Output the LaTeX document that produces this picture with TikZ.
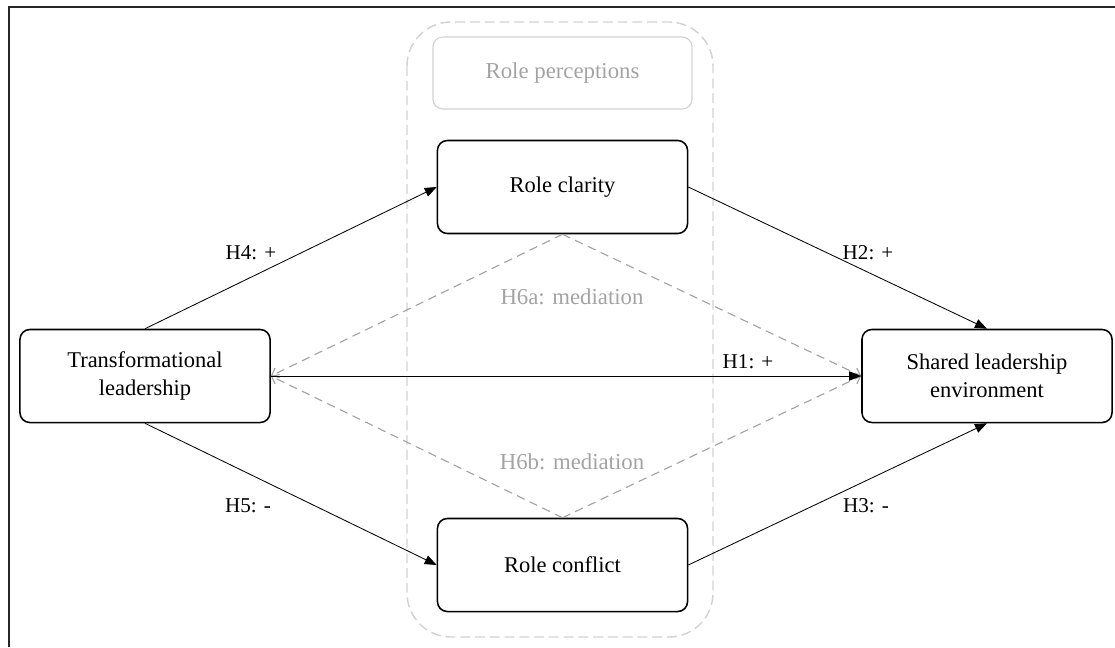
\documentclass[tikz,border=0pt]{standalone}
\usepackage{fontspec}
\setmainfont{Liberation Serif}
\usepackage{tikz}
\usetikzlibrary{positioning,arrows.meta,calc}
\definecolor{frame}{HTML}{262626}
\definecolor{percep}{HTML}{D2D2D2}
\definecolor{medi}{HTML}{A3A3A3}

\begin{document}
\begin{tikzpicture}[x=0.025cm, y=-0.025cm,
  var/.style={draw, line width=1.1pt, rounded corners=7pt, align=center,
    minimum width=6.25cm, minimum height=2.325cm, inner sep=2pt,
    font=\fontsize{16}{19.5}\selectfont},
  hyp/.style={-{Triangle[length=3mm, width=2.3mm]}, line width=0.6pt},
  med/.style={-{Straight Barb[length=1.6mm, width=2.6mm]}, medi, dashed,
    dash pattern=on 6pt off 4pt, line width=0.8pt},
  lab/.style={font=\fontsize{15}{18}\selectfont}]
\useasboundingbox (0,0) rectangle (1115,647);
% outer frame
\draw[frame, line width=1.5pt] (9,647) -- (9,7) -- (1115,7);
% role perceptions group
\draw[percep, dashed, dash pattern=on 7pt off 3.5pt, line width=1pt, rounded corners=1.1cm]
  (407,22) rectangle (713,637);
\node[draw=percep, line width=0.8pt, rounded corners=7pt, minimum width=6.475cm,
  minimum height=1.8cm, text=medi, font=\fontsize{16.2}{19.5}\selectfont]
  (per) at (562.5,73) {Role perceptions};
% variables
\node[var] (tl) at (145,376) {Transformational\\leadership};
\node[var] (cla) at (562.5,187) {Role clarity};
\node[var] (con) at (562.5,565) {Role conflict};
\node[var] (sh) at (987,376) {Shared leadership\\environment};
% mediation paths
\draw[med] (cla.south) -- (tl.east);
\draw[med] (cla.south) -- (sh.west);
\draw[med] (con.north) -- (tl.east);
\draw[med] (con.north) -- (sh.west);
% direct paths
\draw[hyp] (tl.north) -- (cla.west);
\draw[hyp] (tl.south) -- (con.west);
\draw[hyp] (cla.east) -- (sh.north);
\draw[hyp] (con.east) -- (sh.south);
\draw[hyp] (tl.east) -- (sh.west);
% labels
\node[lab] (h4) at (251,253) {H4: +};
\node[lab] (h5) at (248,506) {H5: -};
\node[lab] (h2) at (868,253) {H2: +};
\node[lab] (h3) at (866,506) {H3: -};
\node[lab] (h1) at (748,362) {H1: +};
\node[lab, text=medi, font=\fontsize{16.2}{19.5}\selectfont] (h6a) at (572,297) {H6a: mediation};
\node[lab, text=medi, font=\fontsize{16.2}{19.5}\selectfont] (h6b) at (572,462) {H6b: mediation};
\end{tikzpicture}
\end{document}
